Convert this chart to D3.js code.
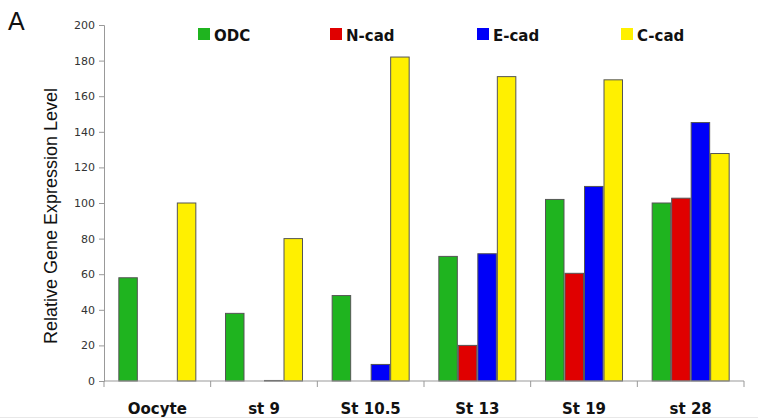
<!DOCTYPE html>
<html><head><meta charset="utf-8">
<script src="https://cdn.jsdelivr.net/npm/d3@7"></script>
<style>body{margin:0;background:#fff}svg{display:block}</style>
</head><body>
<svg id="c" width="758" height="419"></svg>
<script>
const categories = ["Oocyte", "st 9", "St 10.5", "St 13", "St 19", "st 28"];
const series = ["ODC", "N-cad", "E-cad", "C-cad"];
const ODC  = [58, 38, 48, 70, 102, 100];
const Ncad = [0, 0, 0, 20, 60.5, 102.7];
const Ecad = [0, 0.3, 9.3, 71.5, 109.3, 145.2];
const Ccad = [100, 80, 182, 171, 169.2, 127.8];
const yTicks = [0, 20, 40, 60, 80, 100, 120, 140, 160, 180, 200];
const colors = ["#1fb41f", "#e00000", "#0000f8", "#fff000"];
const values = [ODC, Ncad, Ecad, Ccad];

const svg = d3.select("#c");
const m = {l: 104, r: 14, t: 25, b: 38};
const W = 758, H = 419;
const x0 = d3.scaleBand().domain(categories).range([m.l, W - m.r]).padding(0);
const x1 = d3.scaleBand().domain(series).range([0, x0.bandwidth()]).paddingInner(0).paddingOuter(0.735);
const y = d3.scaleLinear().domain([0, 200]).range([H - m.b, m.t]);

// bars
categories.forEach((c, ci) => {
  series.forEach((s, si) => {
    const v = values[si][ci];
    if (v <= 0) return;
    svg.append("rect")
      .attr("x", x0(c) + x1(s) + 0.5)
      .attr("y", y(v))
      .attr("width", x1.bandwidth() - 1)
      .attr("height", y(0) - y(v))
      .attr("fill", colors[si])
      .attr("stroke", "#555")
      .attr("stroke-width", 1);
  });
});

// y axis
const ya = svg.append("g").attr("transform", `translate(${m.l},0)`)
  .call(d3.axisLeft(y).tickValues(yTicks).tickSize(5).tickPadding(4));
ya.select(".domain").attr("stroke", "#999");
ya.selectAll(".tick line").attr("stroke", "#999");
ya.selectAll("text").attr("font-family", "DejaVu Sans").attr("font-size", 11).attr("fill", "#333");

// x axis
const xa = svg.append("g").attr("transform", `translate(0,${y(0)})`)
  .call(d3.axisBottom(x0).tickSize(0).tickPadding(22));
xa.select(".domain").attr("stroke", "#999").attr("d", `M${m.l},0H${W - m.r}`);
xa.selectAll("text").attr("font-family", "DejaVu Sans").attr("font-weight", "bold")
  .attr("font-size", 15).attr("fill", "#111");
const bounds = categories.map(c => x0(c)).concat([x0(categories[categories.length-1]) + x0.bandwidth()]);
xa.selectAll(".bt").data(bounds).enter().append("line")
  .attr("x1", d => d).attr("x2", d => d).attr("y1", 0).attr("y2", 6).attr("stroke", "#999");

// y title
svg.append("text").attr("transform", "translate(57,216) rotate(-90)")
  .attr("text-anchor", "middle").attr("font-family", "Liberation Sans, Arial").attr("font-size", 18)
  .attr("fill", "#111").text("Relative Gene Expression Level");

// panel letter
svg.append("text").attr("x", 8).attr("y", 30).attr("font-family", "Liberation Sans, Arial")
  .attr("font-size", 25).attr("fill", "#111").text("A");

// legend
const legX = [198, 330, 477, 621];
series.forEach((s, i) => {
  svg.append("rect").attr("x", legX[i]).attr("y", 28).attr("width", 12).attr("height", 12)
    .attr("fill", colors[i]);
  svg.append("text").attr("x", legX[i] + 16).attr("y", 40.5)
    .attr("font-family", "DejaVu Sans").attr("font-weight", "bold").attr("font-size", 15)
    .attr("fill", "#111").text(s);
});

// faint bottom rule
svg.append("line").attr("x1", 0).attr("x2", W).attr("y1", 417.5).attr("y2", 417.5)
  .attr("stroke", "#e8e8e8");
</script>
</body></html>
